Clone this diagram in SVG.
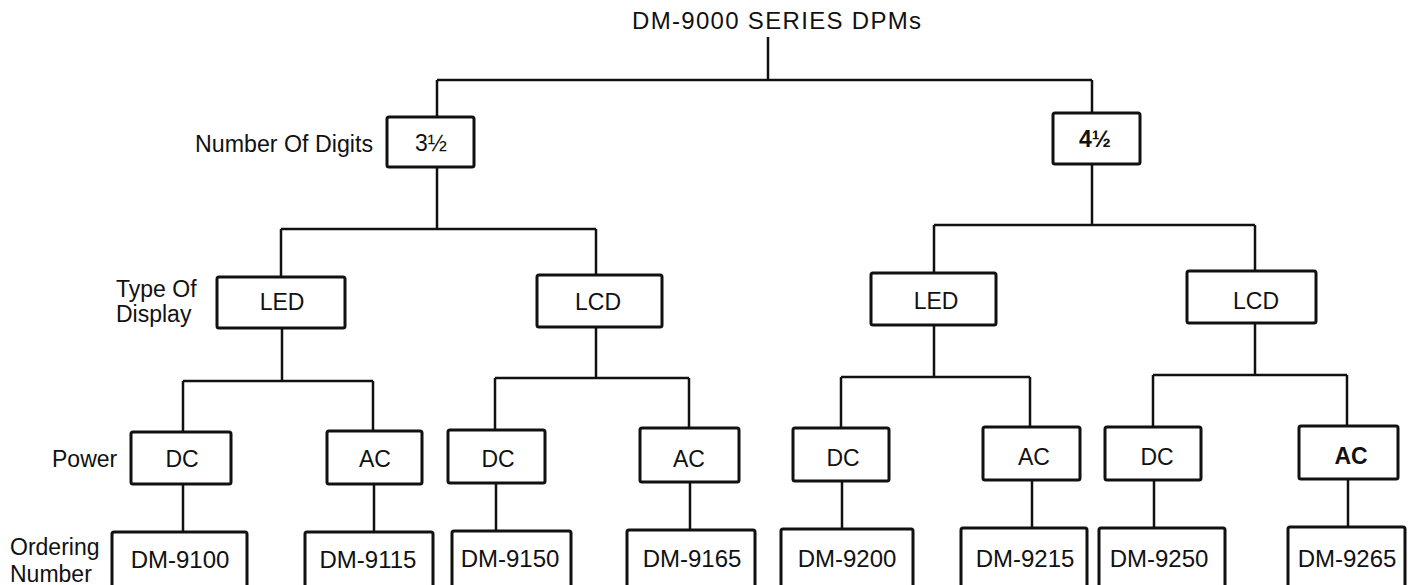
<svg xmlns="http://www.w3.org/2000/svg" width="1408" height="585" viewBox="0 0 1408 585">
<style>
.bx{fill:#fff;stroke:#111;stroke-width:3;}
.ln{fill:none;stroke:#111;stroke-width:2.5;}
text{font-family:"Liberation Sans",Arial,Helvetica,sans-serif;fill:#111;}
.t{font-size:23px;text-anchor:middle;}
.dm{font-size:24px;text-anchor:middle;}
.lb{font-size:23px;}
</style>
<rect width="1408" height="585" fill="#fff"/>
<g id="connectors">
<path class="ln" d="M768,37V80M437,80H1092M437,80V117M1092,80V113"/>
<path class="ln" d="M437,167V229M281,229H596M281,229V277M596,229V275"/>
<path class="ln" d="M1092,164V225M934,225H1255M934,225V273M1255,225V271"/>
<path class="ln" d="M282,328V381M183,381H373M183,381V432M373,381V431"/>
<path class="ln" d="M596,327V378M495,378H689M495,378V430M689,378V428"/>
<path class="ln" d="M934,325V377M841,377H1030M841,377V428M1030,377V427"/>
<path class="ln" d="M1255,323V375M1153,375H1347M1153,375V427M1347,375V426"/>
<path class="ln" d="M183,484V532M374,484V532M496,483V531M690,482V530M842,481V529M1032,480V528M1154,480V528M1348,479V527"/>
</g>
<g id="title"><text x="632" y="29" font-size="24" textLength="289" lengthAdjust="spacing">DM-9000 SERIES DPMs</text></g>
<g id="labels">
<text class="lb" x="195" y="152" textLength="178" lengthAdjust="spacingAndGlyphs">Number Of Digits</text>
<text class="lb" x="116" y="297">Type Of</text>
<text class="lb" x="116" y="322">Display</text>
<text class="lb" x="52" y="467">Power</text>
<text class="lb" x="10" y="555">Ordering</text>
<text class="lb" x="10" y="582">Number</text>
</g>
<g id="n-3half"><rect class="bx" x="387" y="117" width="87" height="50" rx="2"/><text class="t" x="431" y="151">3½</text></g>
<g id="n-4half"><rect class="bx" x="1053" y="113" width="87" height="51" rx="2"/><text class="t" x="1095" y="147" font-weight="bold">4½</text></g>
<g id="n-led1"><rect class="bx" x="217" y="277" width="128" height="51" rx="2"/><text class="t" x="282" y="310">LED</text></g>
<g id="n-lcd1"><rect class="bx" x="537" y="275" width="125" height="52" rx="2"/><text class="t" x="598" y="310">LCD</text></g>
<g id="n-led2"><rect class="bx" x="871" y="273" width="125" height="52" rx="2"/><text class="t" x="936" y="309">LED</text></g>
<g id="n-lcd2"><rect class="bx" x="1187" y="271" width="129" height="52" rx="2"/><text class="t" x="1256" y="309">LCD</text></g>
<g id="n-dc1"><rect class="bx" x="131" y="432" width="100" height="52" rx="2"/><text class="t" x="182" y="467">DC</text></g>
<g id="n-ac1"><rect class="bx" x="327" y="431" width="95" height="53" rx="2"/><text class="t" x="375" y="467">AC</text></g>
<g id="n-dc2"><rect class="bx" x="448" y="430" width="97" height="53" rx="2"/><text class="t" x="498" y="467">DC</text></g>
<g id="n-ac2"><rect class="bx" x="640" y="428" width="99" height="54" rx="2"/><text class="t" x="689" y="467">AC</text></g>
<g id="n-dc3"><rect class="bx" x="793" y="428" width="96" height="53" rx="2"/><text class="t" x="843" y="466">DC</text></g>
<g id="n-ac3"><rect class="bx" x="983" y="427" width="97" height="53" rx="2"/><text class="t" x="1034" y="465">AC</text></g>
<g id="n-dc4"><rect class="bx" x="1105" y="427" width="96" height="53" rx="2"/><text class="t" x="1157" y="465">DC</text></g>
<g id="n-ac4"><rect class="bx" x="1299" y="426" width="99" height="53" rx="2"/><text class="t" x="1351" y="464" font-weight="bold">AC</text></g>
<g id="n-9100"><rect class="bx" x="112" y="532" width="135" height="70" rx="2"/><text class="dm" x="180" y="568">DM-9100</text></g>
<g id="n-9115"><rect class="bx" x="305" y="532" width="128" height="70" rx="2"/><text class="dm" x="368" y="568">DM-9115</text></g>
<g id="n-9150"><rect class="bx" x="452" y="531" width="119" height="70" rx="2"/><text class="dm" x="510" y="567">DM-9150</text></g>
<g id="n-9165"><rect class="bx" x="627" y="530" width="128" height="70" rx="2"/><text class="dm" x="692" y="567">DM-9165</text></g>
<g id="n-9200"><rect class="bx" x="781" y="529" width="132" height="70" rx="2"/><text class="dm" x="847" y="567">DM-9200</text></g>
<g id="n-9215"><rect class="bx" x="961" y="528" width="126" height="70" rx="2"/><text class="dm" x="1025" y="567">DM-9215</text></g>
<g id="n-9250"><rect class="bx" x="1099" y="528" width="126" height="70" rx="2"/><text class="dm" x="1159" y="567">DM-9250</text></g>
<g id="n-9265"><rect class="bx" x="1288" y="527" width="117" height="70" rx="2"/><text class="dm" x="1347" y="567">DM-9265</text></g>
</svg>
